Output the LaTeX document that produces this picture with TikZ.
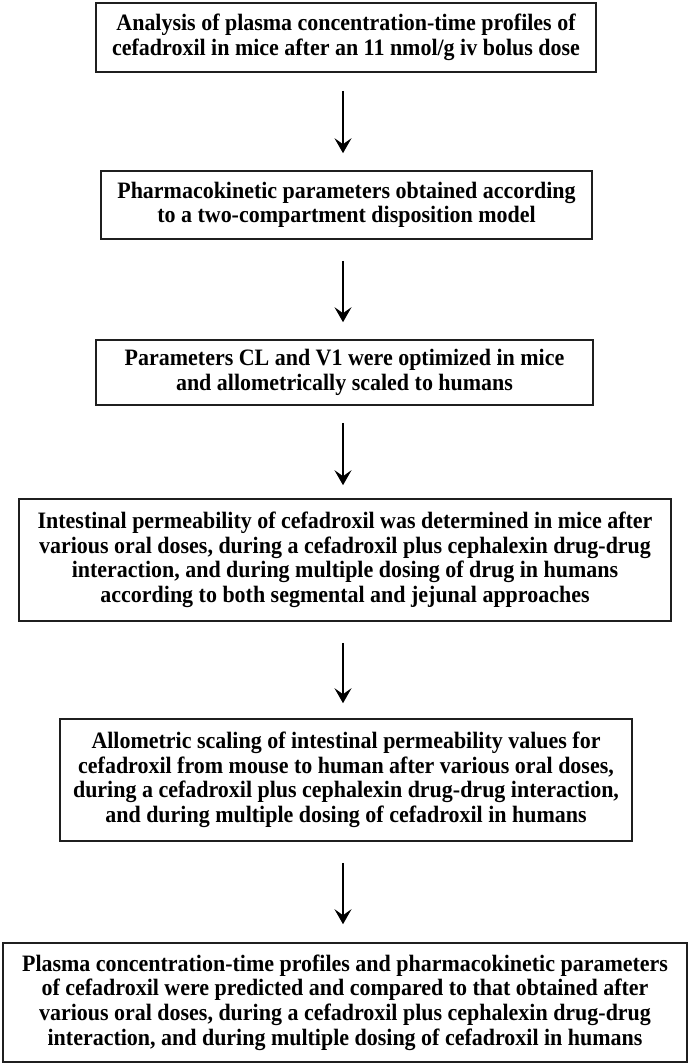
\documentclass[tikz,border=0pt]{standalone}
\usepackage{fontspec}
\setmainfont{Liberation Serif}[FakeStretch=0.935]
\usetikzlibrary{arrows.meta}
\tikzset{
  box/.style={draw=black!88, line width=1.6pt, inner sep=0pt, align=center,
    font=\fontsize{23.5}{24.6}\selectfont\bfseries},
  arr/.style={line width=1.8pt, -{Stealth[length=15pt,width=17pt,inset=6pt]}},
}
\begin{document}
\begin{tikzpicture}[x=1pt,y=-1pt]
\useasboundingbox (0,0) rectangle (690,1064);
\coordinate (ax) at (343,0);
\node[box, minimum width=500pt, minimum height=69pt] (b1) at (346,37.5)
  {Analysis of plasma concentration-time profiles of\\cefadroxil in mice after an 11 nmol/g iv bolus dose};
\node[box, minimum width=491pt, minimum height=68pt] (b2) at (346.5,205)
  {Pharmacokinetic parameters obtained according\\to a two-compartment disposition model};
\node[box, minimum width=497pt, minimum height=65pt] (b3) at (344.5,372.5)
  {Parameters CL and V1 were optimized in mice\\and allometrically scaled to humans};
\node[box, minimum width=652pt, minimum height=122pt] (b4) at (345,560)
  {Intestinal permeability of cefadroxil was determined in mice after\\various oral doses, during a cefadroxil plus cephalexin drug-drug\\interaction, and during multiple dosing of drug in humans\\according to both segmental and jejunal approaches};
\node[box, minimum width=572pt, minimum height=122pt] (b5) at (346,780)
  {Allometric scaling of intestinal permeability values for\\cefadroxil from mouse to human after various oral doses,\\during a cefadroxil plus cephalexin drug-drug interaction,\\and during multiple dosing of cefadroxil in humans};
\node[box, minimum width=684pt, minimum height=119pt] (b6) at (345,1002.5)
  {Plasma concentration-time profiles and pharmacokinetic parameters\\of cefadroxil were predicted and compared to that obtained after\\various oral doses, during a cefadroxil plus cephalexin drug-drug\\interaction, and during multiple dosing of cefadroxil in humans};
\draw[arr, shorten <=18pt, shorten >=17pt] (b1.south -| ax) -- (b2.north -| ax);
\draw[arr, shorten <=21pt, shorten >=17pt] (b2.south -| ax) -- (b3.north -| ax);
\draw[arr, shorten <=17pt, shorten >=13pt] (b3.south -| ax) -- (b4.north -| ax);
\draw[arr, shorten <=21pt, shorten >=15pt] (b4.south -| ax) -- (b5.north -| ax);
\draw[arr, shorten <=21pt, shorten >=18pt] (b5.south -| ax) -- (b6.north -| ax);
\end{tikzpicture}
\end{document}
